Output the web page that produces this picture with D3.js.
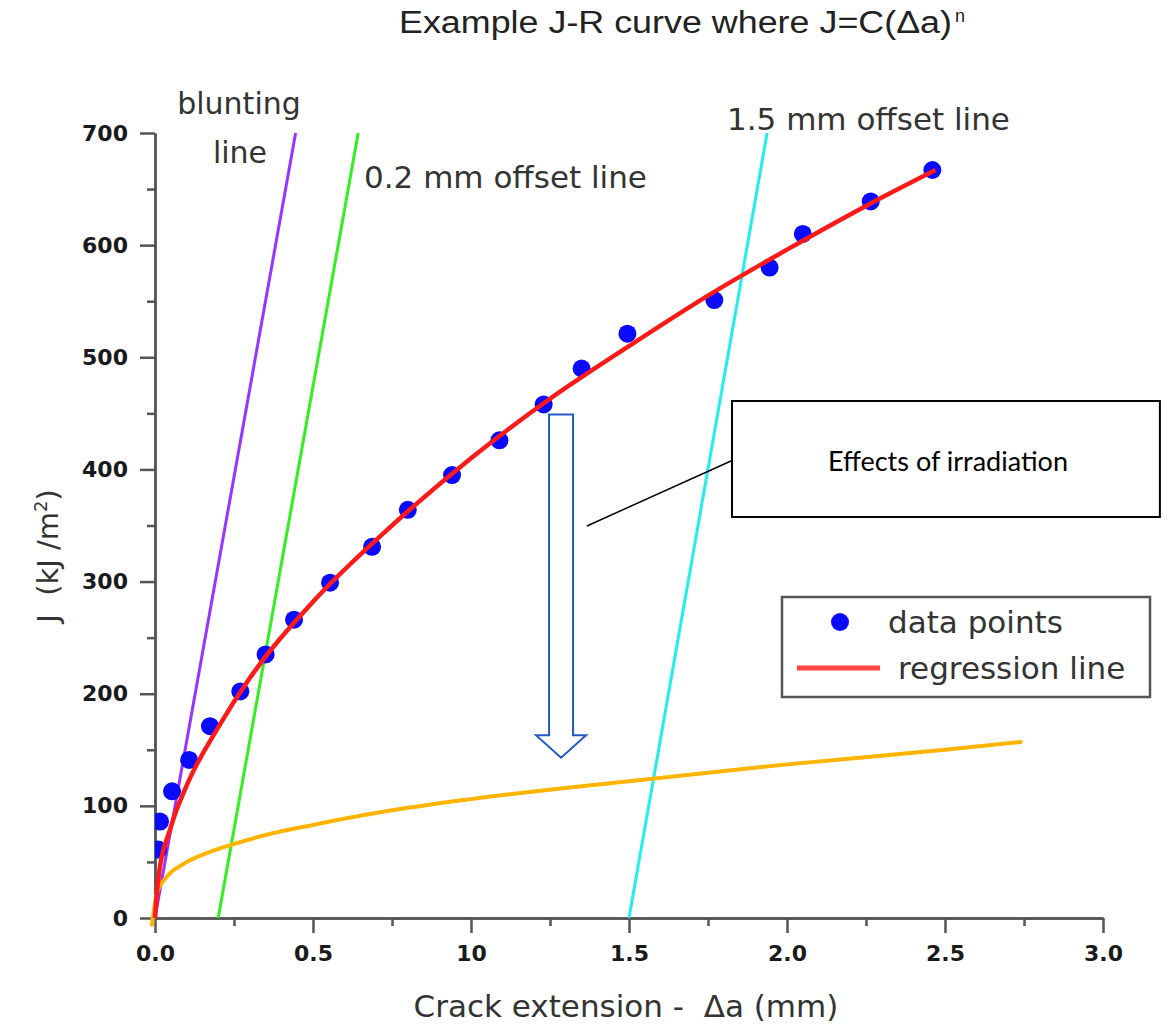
<!DOCTYPE html>
<html>
<head>
<meta charset="utf-8">
<script src="https://cdn.jsdelivr.net/npm/d3@7"></script>
<style>
body { margin: 0; background: #fff; }
svg text { font-family: "DejaVu Sans", sans-serif; }
</style>
</head>
<body>
<div id="chart"></div>
<script>
// values
var crackExt = [0.01, 0.016, 0.054, 0.108, 0.174, 0.27, 0.35, 0.44, 0.554, 0.687, 0.80,
                0.94, 1.09, 1.23, 1.35, 1.495, 1.77, 1.945, 2.05, 2.265, 2.46];
var jValues = [61, 86, 113, 141, 171, 202, 235, 266, 299, 331, 364,
               395, 426, 458, 490, 521, 551, 580, 610, 639, 667];

// red regression line J = C(da)^n, as traced
var regrX = [0, 0.01, 0.05, 0.1, 0.2, 0.3, 0.5, 0.75, 1.0, 1.25, 1.5, 1.75, 2.0, 2.25, 2.47];
var regrJ = [0, 34, 81, 118, 170, 214, 282, 350, 410, 463, 510, 555, 596, 635, 667];

// orange curve (after irradiation), as traced
var irrX = [-0.0095, 0.006, 0.038, 0.089, 0.165, 0.25, 0.35, 0.5, 0.75, 1.0, 1.5, 2.0, 2.5, 2.74];
var irrJ = [-6, 22, 37, 48, 58, 66, 74, 83, 96, 106, 122, 137, 150, 157];

// construction lines going from J=0 to J=700
var constrX0 = [0, 0.2, 1.5];
var constrX1 = [0.445, 0.643, 1.937];
var constrJ = [0, 700];
var constrColors = ["#9933ff", "#33ee22", "#22eeee"];

var xTicks = [0, 0.5, 1, 1.5, 2, 2.5, 3];
var xTickLabels = ["0.0", "0.5", "10", "1.5", "2.0", "2.5", "3.0"];
var xMinor = [0.25, 0.75, 1.25, 1.75, 2.25, 2.75];
var yTicks = [0, 100, 200, 300, 400, 500, 600, 700];
var yMinor = [50, 150, 250, 350, 450, 550, 650];

// annotation arrow + callout, in data units
var arrowX = 1.285, arrowTop = 449, arrowHeadBase = 163, arrowTip = 143;
var calloutX = [1.826, 3.18], calloutJ = [461, 357.6];
var pointerX = [1.367, 1.842], pointerJ = [349.6, 410];

var width = 1175;
var height = 1035;

var svg = d3.select("#chart")
    .append("svg")
    .attr("width", width)
    .attr("height", height);

var x = d3.scaleLinear().domain([0, 3]).range([155, 1103]);
var y = d3.scaleLinear().domain([0, 700]).range([918, 133]);

// dots are cut at the y axis
svg.append("clipPath").attr("id", "plotclip")
    .append("rect")
    .attr("x", x(0)).attr("y", 0)
    .attr("width", width - x(0)).attr("height", height);

// title
svg.append("text")
    .attr("x", 399)
    .attr("y", 33)
    .attr("textLength", 553)
    .attr("lengthAdjust", "spacingAndGlyphs")
    .style("font-family", "'Liberation Sans', Arial, sans-serif")
    .style("font-size", "31px")
    .style("fill", "#222")
    .text("Example J-R curve where J=C(\u0394a)");
svg.append("text")
    .attr("x", 955)
    .attr("y", 22)
    .style("font-family", "'Liberation Sans', Arial, sans-serif")
    .style("font-size", "18px")
    .style("fill", "#222")
    .text("n");

// axes
var axisColor = "#555";
function styleAxis(g) {
    g.select(".domain").attr("stroke", axisColor).attr("stroke-width", 2.5);
    g.selectAll(".tick line").attr("stroke", axisColor).attr("stroke-width", 2.5);
    g.selectAll(".tick text")
        .style("font-family", "'DejaVu Sans', sans-serif")
        .style("font-weight", "bold")
        .style("font-size", "22px")
        .style("fill", "#1a1a1a");
}

svg.append("g")
    .attr("transform", "translate(155,0)")
    .call(d3.axisLeft(y).tickValues(yMinor).tickSize(8).tickSizeOuter(0).tickFormat(""))
    .call(styleAxis);
svg.append("g")
    .attr("transform", "translate(155,0)")
    .call(d3.axisLeft(y).tickValues(yTicks).tickSize(15).tickSizeOuter(0).tickPadding(12))
    .call(styleAxis);

svg.append("g")
    .attr("transform", "translate(0,918)")
    .call(d3.axisBottom(x).tickValues(xMinor).tickSize(8).tickSizeOuter(0).tickFormat(""))
    .call(styleAxis);
svg.append("g")
    .attr("transform", "translate(0,918)")
    .call(d3.axisBottom(x).tickValues(xTicks).tickSize(15).tickSizeOuter(0).tickPadding(12)
        .tickFormat(function (d, i) { return xTickLabels[i]; }))
    .call(styleAxis);

// axis titles
var yTitle = svg.append("text")
    .attr("transform", "translate(58,556) rotate(-90)")
    .attr("text-anchor", "middle")
    .style("font-size", "29px")
    .style("fill", "#333")
    .style("white-space", "pre");
yTitle.append("tspan").text("J  (kJ /m");
yTitle.append("tspan").attr("dy", -11).style("font-size", "18px").text("2");
yTitle.append("tspan").attr("dy", 11).text(")");

svg.append("text")
    .attr("x", 626)
    .attr("y", 1017)
    .attr("text-anchor", "middle")
    .style("font-size", "31px")
    .style("fill", "#333")
    .style("white-space", "pre")
    .text("Crack extension -  \u0394a (mm)");

// construction lines
var line = d3.line()
    .x(function (d) { return x(d[0]); })
    .y(function (d) { return y(d[1]); });

for (var i = 0; i < constrX0.length; i++) {
    svg.append("path")
        .attr("d", line([[constrX0[i], constrJ[0]], [constrX1[i], constrJ[1]]]))
        .attr("fill", "none")
        .attr("stroke", constrColors[i])
        .attr("stroke-width", 3);
}

// orange curve
var curve = d3.line()
    .x(function (d) { return x(d[0]); })
    .y(function (d) { return y(d[1]); })
    .curve(d3.curveMonotoneX);

svg.append("path")
    .attr("d", curve(irrX.map(function (v, i) { return [v, irrJ[i]]; })))
    .attr("fill", "none")
    .attr("stroke", "#ffb400")
    .attr("stroke-width", 4)
    .attr("stroke-linecap", "round");

// data points
svg.append("g")
    .attr("clip-path", "url(#plotclip)")
    .selectAll(".pt")
    .data(crackExt)
    .enter().append("circle")
    .attr("class", "pt")
    .attr("cx", function (d) { return x(d); })
    .attr("cy", function (d, i) { return y(jValues[i]); })
    .attr("r", 9)
    .attr("fill", "#0a0aff");

// regression line
svg.append("path")
    .attr("d", curve(regrX.map(function (v, i) { return [v, regrJ[i]]; })))
    .attr("fill", "none")
    .attr("stroke", "#ff1a1a")
    .attr("stroke-width", 4.5);

// line labels
var lbl = [["blunting", 239, 114, "middle", 30], ["line", 240, 163, "middle", 30],
           ["0.2 mm offset line", 364, 188, "start", 31], ["1.5 mm offset line", 727, 130, "start", 31]];
svg.selectAll(".lbl")
    .data(lbl)
    .enter().append("text")
    .attr("class", "lbl")
    .attr("x", function (d) { return d[1]; })
    .attr("y", function (d) { return d[2]; })
    .attr("text-anchor", function (d) { return d[3]; })
    .style("font-size", function (d) { return d[4] + "px"; })
    .style("fill", "#333")
    .text(function (d) { return d[0]; });

// hollow arrow
var ax = x(arrowX);
var arrowPts = [[ax - 12, y(arrowTop)], [ax + 12, y(arrowTop)], [ax + 12, y(arrowHeadBase)],
                [ax + 25, y(arrowHeadBase)], [ax, y(arrowTip)], [ax - 25, y(arrowHeadBase)],
                [ax - 12, y(arrowHeadBase)]];
svg.append("polygon")
    .attr("points", arrowPts.map(function (p) { return p.join(","); }).join(" "))
    .attr("fill", "#fff")
    .attr("stroke", "#2358cc")
    .attr("stroke-width", 2);

// callout
svg.append("line")
    .attr("x1", x(pointerX[0])).attr("y1", y(pointerJ[0]))
    .attr("x2", x(pointerX[1])).attr("y2", y(pointerJ[1]))
    .attr("stroke", "#000").attr("stroke-width", 1.5);
svg.append("rect")
    .attr("x", x(calloutX[0]))
    .attr("y", y(calloutJ[0]))
    .attr("width", x(calloutX[1]) - x(calloutX[0]))
    .attr("height", y(calloutJ[1]) - y(calloutJ[0]))
    .attr("fill", "#fff")
    .attr("stroke", "#000")
    .attr("stroke-width", 2);
svg.append("text")
    .attr("x", (x(calloutX[0]) + x(calloutX[1])) / 2 + 2)
    .attr("y", 471)
    .attr("text-anchor", "middle")
    .style("font-family", "Lato, 'Open Sans', sans-serif")
    .style("font-size", "27px")
    .style("fill", "#000")
    .text("Effects of irradiation");

// legend
var legend = svg.append("g").attr("transform", "translate(782,597)");
legend.append("rect")
    .attr("width", 368).attr("height", 100)
    .attr("fill", "#fff").attr("stroke", "#555").attr("stroke-width", 2.5);
legend.append("circle").attr("cx", 58).attr("cy", 25).attr("r", 9).attr("fill", "#0a0aff");
legend.append("text").attr("x", 106).attr("y", 36)
    .style("font-size", "31px").style("fill", "#333").text("data points");
legend.append("line").attr("x1", 15).attr("x2", 98).attr("y1", 71).attr("y2", 71)
    .attr("stroke", "#ff4444").attr("stroke-width", 5);
legend.append("text").attr("x", 116).attr("y", 82)
    .style("font-size", "31px").style("fill", "#333").text("regression line");
</script>
</body>
</html>
